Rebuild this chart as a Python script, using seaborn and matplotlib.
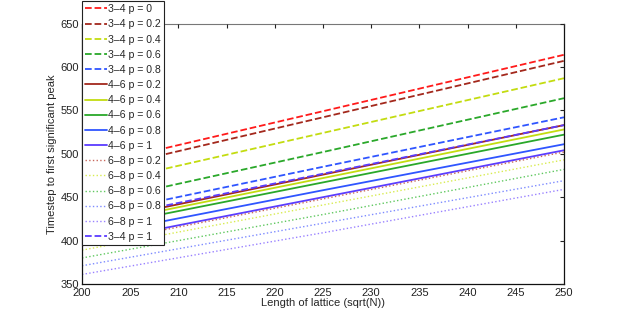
import matplotlib
matplotlib.use("Agg")
import matplotlib.pyplot as plt
import seaborn as sns
import pandas as pd

# lattice lengths (sqrt(N)) where values were read
lattice = [200, 225, 250]

# series labels in legend order
labels = ["3–4 p = 0", "3–4 p = 0.2", "3–4 p = 0.4", "3–4 p = 0.6", "3–4 p = 0.8",
          "4–6 p = 0.2", "4–6 p = 0.4", "4–6 p = 0.6", "4–6 p = 0.8", "4–6 p = 1",
          "6–8 p = 0.2", "6–8 p = 0.4", "6–8 p = 0.6", "6–8 p = 0.8", "6–8 p = 1",
          "3–4 p = 1"]

# timestep to first significant peak
peak_34_p0 = [484, 549, 614]
peak_34_p02 = [477, 542, 607]
peak_34_p04 = [461, 524, 587]
peak_34_p06 = [441, 502, 564]
peak_34_p08 = [427, 485, 542]
peak_46_p02 = [419, 476, 533]
peak_46_p04 = [416, 472, 528]
peak_46_p06 = [412, 467, 522]
peak_46_p08 = [404, 458, 511]
peak_46_p1 = [396, 450, 504]
peak_68_p02 = [394, 448, 502]
peak_68_p04 = [389, 441, 493]
peak_68_p06 = [380, 430, 482]
peak_68_p08 = [371, 420, 469]
peak_68_p1 = [361, 409, 459]
peak_34_p1 = [421, 477, 533]

series = [peak_34_p0, peak_34_p02, peak_34_p04, peak_34_p06, peak_34_p08,
          peak_46_p02, peak_46_p04, peak_46_p06, peak_46_p08, peak_46_p1,
          peak_68_p02, peak_68_p04, peak_68_p06, peak_68_p08, peak_68_p1,
          peak_34_p1]

colors = ["#ff1a1a", "#a3281c", "#c3dc10", "#2aa82a", "#2f55ff",
          "#a3281c", "#c3dc10", "#2aa82a", "#2f55ff", "#5b3cff",
          "#c8685c", "#d8ec50", "#60c860", "#7f8cff", "#9a82ff",
          "#5b3cff"]
styles = ["--"] * 5 + ["-"] * 5 + [":"] * 5 + ["--"]

sns.set_style("white")
plt.rcParams["font.family"] = ["Liberation Sans", "DejaVu Sans"]

fig = plt.figure(figsize=(6.23, 3.2), dpi=100)
ax = fig.add_axes([0.1316, 0.1125, 0.7737, 0.814])

for lab, vals, col, ls in zip(labels, series, colors, styles):
    df = pd.DataFrame({"lattice": lattice, "peak": vals})
    lw = 1.0 if ls == ":" else 1.3
    sns.lineplot(data=df, x="lattice", y="peak", color=col, linestyle=ls,
                 linewidth=lw, label=lab, ax=ax, zorder=2)

ax.set_xlim(200, 250)
ax.set_ylim(350, 650)
ax.set_xticks(range(200, 251, 5))
ax.set_yticks(range(350, 651, 50))
ax.tick_params(direction="in", length=3, labelsize=8, top=True, right=True,
               colors="#222222")
ax.tick_params(axis="x", pad=3)
ax.tick_params(axis="y", pad=2)
ax.set_xlabel("Length of lattice (sqrt(N))", fontsize=8, labelpad=0)
ax.set_ylabel("Timestep to first significant peak", fontsize=8, labelpad=3)
for side in ["left", "bottom", "right"]:
    ax.spines[side].set_color("#111111")
    ax.spines[side].set_linewidth(0.9)
ax.spines["top"].set_color("#777777")
ax.spines["top"].set_linewidth(0.8)

# legend sits on top of spines and ticks, as in the original
for sp in ax.spines.values():
    sp.set_zorder(2.1)
ax.xaxis.set_zorder(2.1)
ax.yaxis.set_zorder(2.1)

leg = ax.legend(loc="upper left", bbox_to_anchor=(82 / 623, 1 - 1 / 320),
                bbox_transform=fig.transFigure, fontsize=7.6, frameon=True,
                fancybox=False, framealpha=1, edgecolor="#222222",
                handlelength=2.1, handletextpad=0.1, labelspacing=0.49,
                borderpad=0.3, borderaxespad=0)
leg.get_frame().set_linewidth(0.8)
leg.set_zorder(2.2)

fig.savefig("out.png", dpi=100)
